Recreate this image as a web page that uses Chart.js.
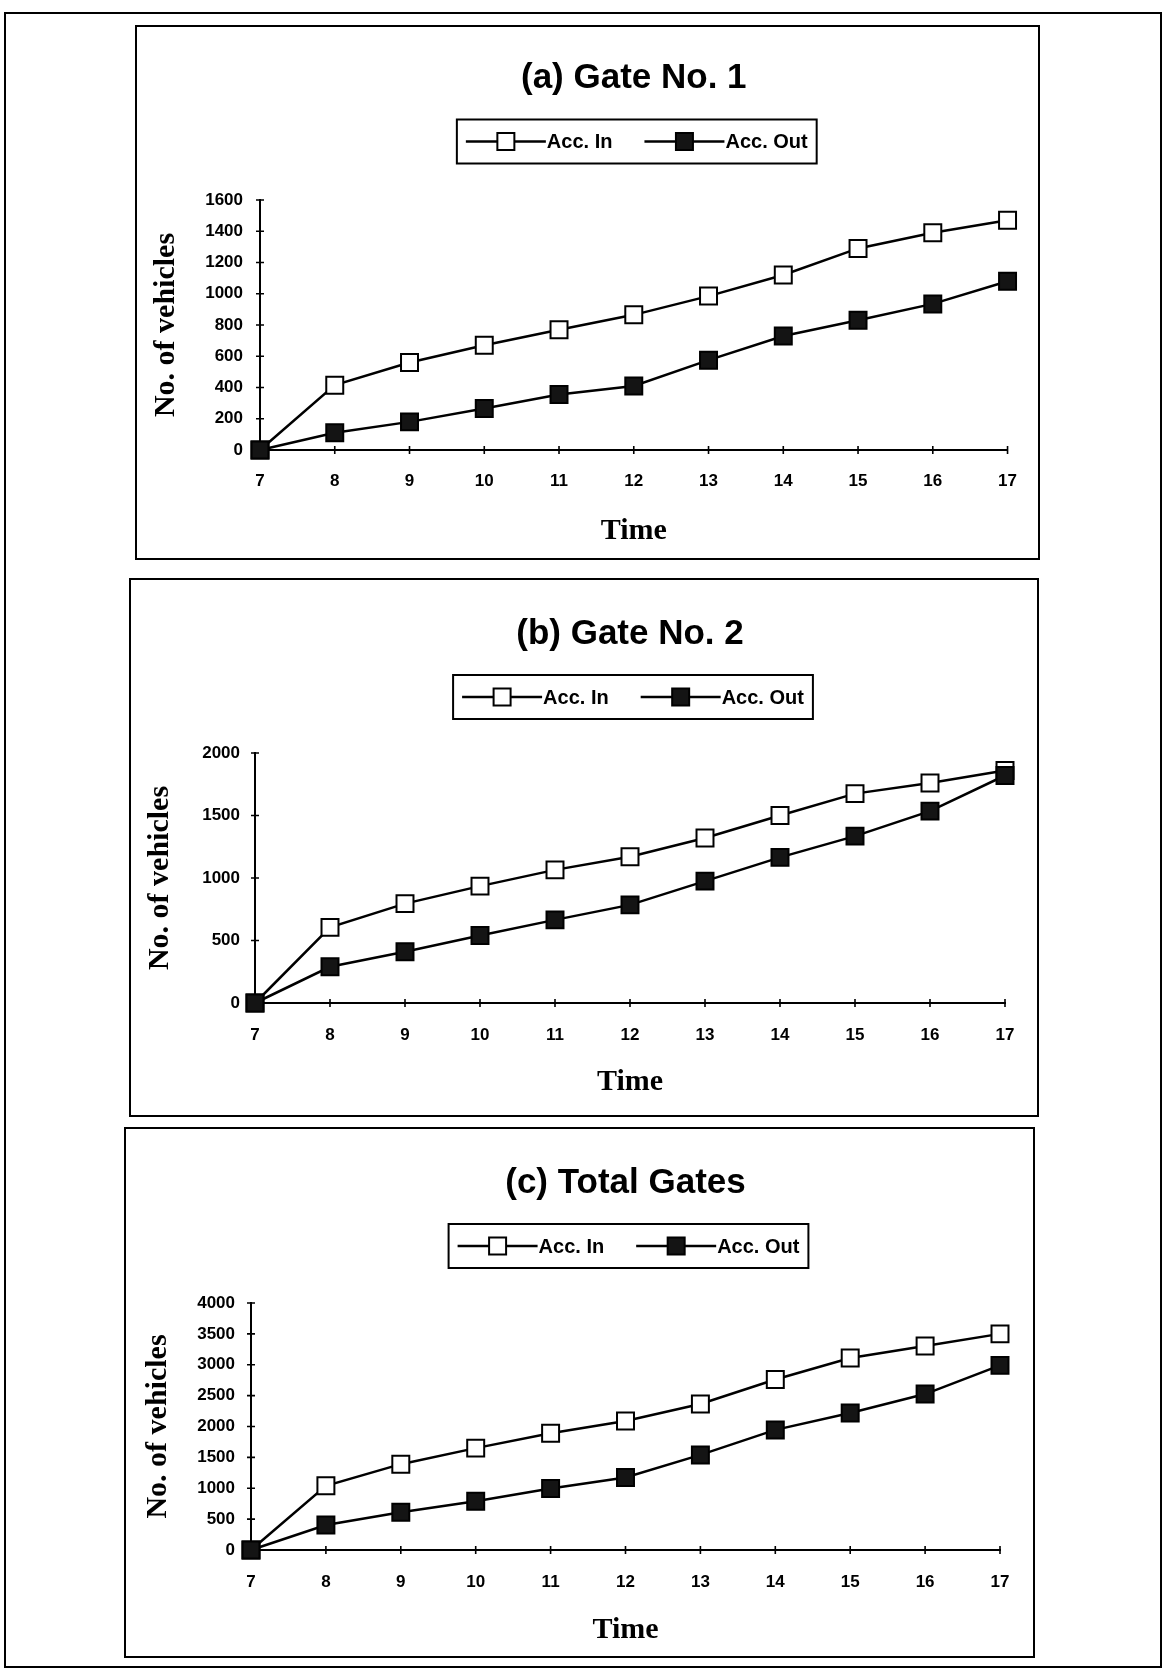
<!DOCTYPE html>
<html>
<head>
<meta charset="utf-8">
<script src="https://cdn.jsdelivr.net/npm/chart.js@4.4.1/dist/chart.umd.min.js"></script>
<style>
  html, body { margin: 0; padding: 0; background: #fff; }
  body { width: 1166px; height: 1675px; position: relative; overflow: hidden; }
  .frame { position: absolute; border: 2px solid #000; box-sizing: border-box; }
  canvas { position: absolute; }
</style>
</head>
<body>
<div class="frame" style="left:4px; top:12px; width:1158px; height:1656px;"></div>
<div class="frame" style="left:135px; top:25px; width:905px; height:535px;"></div>
<div class="frame" style="left:129px; top:578px; width:910px; height:539px;"></div>
<div class="frame" style="left:124px; top:1127px; width:911px; height:531px;"></div>
<canvas id="gate1" width="901" height="531" style="left:137px; top:27px;"></canvas>
<canvas id="gate2" width="906" height="535" style="left:131px; top:580px;"></canvas>
<canvas id="total" width="907" height="527" style="left:126px; top:1129px;"></canvas>

<script>
// data (cumulative vehicles, hour of day)
var hours = ['7', '8', '9', '10', '11', '12', '13', '14', '15', '16', '17'];
var seriesNames = ['Acc. In', 'Acc. Out'];

var gate1In  = [0, 415, 560, 670, 770, 865, 985, 1120, 1290, 1390, 1470];
var gate1Out = [0, 110, 180, 265, 355, 410, 575, 730, 830, 935, 1080];

var gate2In  = [0, 605, 795, 935, 1065, 1170, 1320, 1500, 1675, 1760, 1860];
var gate2Out = [0, 290, 410, 540, 665, 785, 975, 1165, 1335, 1535, 1820];

var totalIn  = [0, 1040, 1390, 1650, 1890, 2090, 2365, 2760, 3110, 3305, 3500];
var totalOut = [0, 405, 610, 790, 995, 1175, 1540, 1945, 2220, 2525, 2990];

var panelTitles = ['(a) Gate No. 1', '(b) Gate No. 2', '(c) Total Gates'];
var yMax  = [1600, 2000, 4000];
var yStep = [200, 500, 500];

var sansBold = '"Liberation Sans", Arial, sans-serif';
var serifBold = '"Liberation Serif", "Times New Roman", serif';

// small cross ticks on both axes, like the original
var crossTicks = {
    id: 'crossTicks',
    beforeDatasetsDraw: function(chart) {
        var ctx = chart.ctx, area = chart.chartArea;
        var xs = chart.scales.x, ys = chart.scales.y;
        ctx.save();
        ctx.strokeStyle = '#000';
        ctx.lineWidth = 1.6;
        ctx.beginPath();
        xs.ticks.forEach(function(t, i) {
            var px = xs.getPixelForTick(i);
            ctx.moveTo(px, area.bottom - 4);
            ctx.lineTo(px, area.bottom + 4);
        });
        ys.ticks.forEach(function(t, i) {
            var py = ys.getPixelForTick(i);
            ctx.moveTo(area.left - 4, py);
            ctx.lineTo(area.left + 4, py);
        });
        ctx.stroke();
        ctx.restore();
    }
};

// boxed legend with line-marker-line symbols
var boxedLegend = {
    id: 'boxedLegend',
    afterDraw: function(chart, args, opts) {
        var ctx = chart.ctx, area = chart.chartArea;
        var markW = 80, sq = 17, gap = 1, itemGap = 32, pad = 9, boxH = 44;
        ctx.save();
        ctx.font = 'bold 20px ' + sansBold;
        var items = chart.data.datasets.map(function(ds) {
            return { text: ds.label, w: ctx.measureText(ds.label).width,
                     fill: ds.pointBackgroundColor, stroke: ds.borderColor };
        });
        var total = pad * 2 + itemGap * (items.length - 1);
        items.forEach(function(it) { total += markW + gap + it.w; });
        var x = (area.left + area.right) / 2 - total / 2 + 3;
        var cy = area.top - opts.offset;

        ctx.strokeStyle = '#000';
        ctx.lineWidth = 2;
        ctx.strokeRect(x, cy - boxH / 2, total, boxH);
        x += pad;
        items.forEach(function(it) {
            ctx.strokeStyle = it.stroke;
            ctx.lineWidth = 2.5;
            ctx.beginPath();
            ctx.moveTo(x, cy);
            ctx.lineTo(x + markW, cy);
            ctx.stroke();
            ctx.fillStyle = it.fill;
            ctx.fillRect(x + markW / 2 - sq / 2, cy - sq / 2, sq, sq);
            ctx.lineWidth = 2;
            ctx.strokeRect(x + markW / 2 - sq / 2, cy - sq / 2, sq, sq);
            ctx.fillStyle = '#000';
            ctx.textBaseline = 'middle';
            ctx.textAlign = 'left';
            ctx.fillText(it.text, x + markW + gap, cy + 1);
            x += markW + gap + it.w + itemGap;
        });
        ctx.restore();
    }
};

function makeChart(canvasId, idx, inData, outData, lay) {
    return new Chart(canvasId, {
        type: 'line',
        data: {
            labels: hours,
            datasets: [
                {
                    label: seriesNames[0],
                    data: inData,
                    borderColor: '#000',
                    borderWidth: 2.5,
                    pointStyle: 'rect',
                    pointRadius: 12,
                    pointBorderWidth: 2,
                    pointBackgroundColor: '#fff',
                    pointBorderColor: '#000',
                    tension: 0,
                    clip: false,
                    order: 1
                },
                {
                    label: seriesNames[1],
                    data: outData,
                    borderColor: '#000',
                    borderWidth: 2.5,
                    pointStyle: 'rect',
                    pointRadius: 12,
                    pointBorderWidth: 2,
                    pointBackgroundColor: '#141414',
                    pointBorderColor: '#000',
                    tension: 0,
                    clip: false,
                    order: 0
                }
            ]
        },
        options: {
            responsive: false,
            animation: false,
            layout: { padding: { left: 0, top: 0, right: lay.padRight, bottom: 0 } },
            plugins: {
                legend: { display: false },
                tooltip: { enabled: false },
                title: {
                    display: true,
                    fullSize: false,
                    text: panelTitles[idx],
                    color: '#000',
                    font: { family: sansBold, size: 35, weight: 'bold', lineHeight: 1.2 },
                    padding: { top: lay.titleTop, bottom: lay.titleBottom }
                },
                boxedLegend: { offset: lay.legendOffset }
            },
            scales: {
                x: {
                    type: 'category',
                    offset: false,
                    grid: { display: false, drawTicks: false },
                    border: { display: true, color: '#000', width: 2 },
                    ticks: {
                        color: '#000',
                        autoSkip: false,
                        maxRotation: 0,
                        padding: lay.xTickPad,
                        font: { family: sansBold, size: 17, weight: 'bold' }
                    },
                    title: {
                        display: true,
                        text: 'Time',
                        color: '#000',
                        font: { family: serifBold, size: 30, weight: 'bold', lineHeight: 1.2 },
                        padding: { top: 0, bottom: lay.timeBottom }
                    },
                    afterFit: function(s) { s.height = lay.xAxisH; }
                },
                y: {
                    min: 0,
                    max: yMax[idx],
                    grid: { display: false, drawTicks: false },
                    border: { display: true, color: '#000', width: 2 },
                    ticks: {
                        stepSize: yStep[idx],
                        color: '#000',
                        padding: lay.yTickPad,
                        font: { family: sansBold, size: 17, weight: 'bold' },
                        callback: function(v) { return String(v); }
                    },
                    title: {
                        display: true,
                        text: 'No. of vehicles',
                        color: '#000',
                        font: { family: serifBold, size: 30, weight: 'bold', lineHeight: 1.2 },
                        padding: { top: lay.yTitleTop, bottom: 0 }
                    },
                    afterFit: function(s) { s.width = lay.yAxisW; }
                }
            }
        },
        plugins: [crossTicks, boxedLegend]
    });
}

makeChart('gate1', 0, gate1In, gate1Out, {
    padRight: 28, yAxisW: 123, xAxisH: 108, titleTop: 30, titleBottom: 101,
    legendOffset: 58.5, xTickPad: 21, timeBottom: 9, yTitleTop: 11, yTickPad: 17
});
makeChart('gate2', 1, gate2In, gate2Out, {
    padRight: 32, yAxisW: 124, xAxisH: 112, titleTop: 33, titleBottom: 98,
    legendOffset: 56, xTickPad: 22, timeBottom: 15, yTitleTop: 11, yTickPad: 15
});
makeChart('total', 2, totalIn, totalOut, {
    padRight: 33, yAxisW: 125, xAxisH: 106, titleTop: 33, titleBottom: 99,
    legendOffset: 57, xTickPad: 22, timeBottom: 8, yTitleTop: 14, yTickPad: 16
});
</script>
</body>
</html>
